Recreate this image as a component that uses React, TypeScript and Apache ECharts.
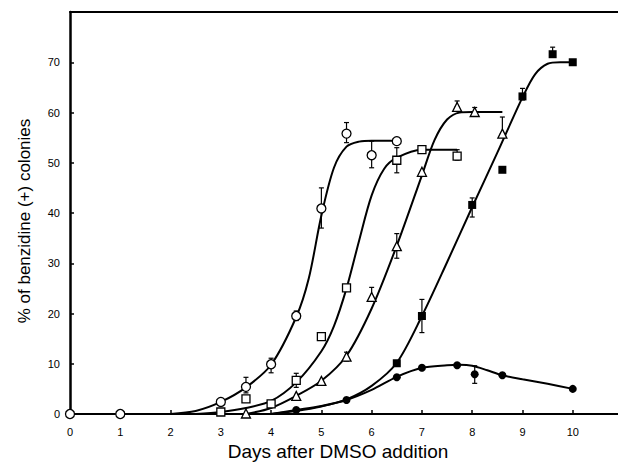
import React, { useEffect, useRef } from "react";
import * as echarts from "echarts";

// ---- tick labels ----
const xTicks = [0, 1, 2, 3, 4, 5, 6, 7, 8, 9, 10];
const yTicks = [0, 10, 20, 30, 40, 50, 60, 70];

// ---- measured points [day, %] ----
const openCircles = [[0, 0], [1, 0], [3, 2.4], [3.5, 5.4], [4, 9.9], [4.5, 19.5], [5, 40.9], [5.5, 55.8], [6, 51.5], [6.5, 54.3]];
const openSquares = [[3, 0.4], [3.5, 3.0], [4, 2.0], [4.5, 6.7], [5, 15.4], [5.5, 25.1], [6.5, 50.5], [7, 52.6], [7.7, 51.3]];
const openTriangles = [[3.5, 0.1], [4.5, 3.6], [5, 6.6], [5.5, 11.4], [6, 23.3], [6.5, 33.4], [7, 48.2], [7.7, 61.1], [8.05, 60.1], [8.6, 55.8]];
const filledSquares = [[6.5, 10.1], [7, 19.5], [8, 41.6], [8.6, 48.6], [9, 63.2], [9.6, 71.6], [10, 70]];
const filledCircles = [[4.5, 0.8], [5.5, 2.8], [6.5, 7.3], [7, 9.2], [7.7, 9.7], [8.05, 7.9], [8.6, 7.7], [10, 5.0]];

// ---- error bars [day, low, high] ----
const openCirclesErr = [[3.5, 4.2, 7.3], [4, 8.2, 11.1], [4.5, 18.6, 20.5], [5, 37, 45], [5.5, 54, 58], [6, 49, 54.3]];
const openSquaresErr = [[4.5, 5.3, 8.1], [6.5, 48, 53], [7.7, 50.5, 52.6]];
const openTrianglesErr = [[5.5, 10.5, 12.3], [6, 23.3, 25.2], [6.5, 31, 35.9], [7.7, 61.1, 62.3], [8.05, 59.3, 61], [8.6, 55.8, 59.1]];
const filledSquaresErr = [[7, 16.2, 22.8], [8, 39.2, 43], [9, 62.5, 64.8], [9.6, 71.6, 73]];
const filledCirclesErr = [[8.05, 6.1, 9.6]];

// ---- fitted curves [day, %] ----
const openCircleCurve = [[2, 0], [2.5, 0.6], [3, 2.4], [3.5, 5.3], [4, 9.8], [4.5, 19.3], [4.75, 27], [5, 39.5], [5.25, 49], [5.5, 53.2], [5.75, 54.2], [6, 54.4], [6.5, 54.4]];
const openSquareCurve = [[2.5, 0], [3, 0.4], [3.5, 1.2], [4, 2.6], [4.5, 6.3], [5, 12.5], [5.25, 17.5], [5.5, 25], [5.75, 34.5], [6, 43.5], [6.25, 48.8], [6.5, 51], [7, 52.6], [7.7, 52.6]];
const openTriangleCurve = [[3.5, 0], [4, 1.2], [4.5, 3.6], [5, 6.6], [5.5, 11.6], [6, 21], [6.5, 33.5], [7, 47.5], [7.25, 54.5], [7.5, 58.6], [7.75, 60], [8, 60.1], [8.6, 60.1]];
const filledSquareCurve = [[4, 0], [4.5, 0.6], [5, 1.5], [5.5, 2.9], [6, 5.6], [6.5, 10.2], [7, 19.5], [7.5, 30.2], [8, 41.2], [8.5, 52], [9, 63], [9.25, 67.6], [9.5, 69.7], [9.75, 70], [10, 70]];
const filledCircleCurve = [[4, 0], [4.5, 0.8], [5, 1.6], [5.5, 2.8], [6, 4.8], [6.5, 7.4], [7, 9.2], [7.5, 9.7], [7.75, 9.8], [8, 9.6], [8.3, 8.7], [8.6, 7.7], [9, 6.9], [9.5, 6.0], [10, 5.0]];

const FONT = "'Liberation Sans', Arial, Helvetica, sans-serif";

function curve(data: number[][]) {
  return {
    type: "line",
    data,
    smooth: 0.3,
    showSymbol: false,
    symbol: "none",
    lineStyle: { color: "#000", width: 2 },
    z: 2,
    silent: true,
  };
}

function errBars(data: number[][]) {
  return {
    type: "custom",
    data,
    z: 3,
    silent: true,
    renderItem: (params: any, api: any) => {
      const x = api.value(0);
      const lo = api.coord([x, api.value(1)]);
      const hi = api.coord([x, api.value(2)]);
      const cw = 2.5;
      const st = { stroke: "#000", lineWidth: 1.2 };
      return {
        type: "group",
        children: [
          { type: "line", shape: { x1: lo[0], y1: lo[1], x2: hi[0], y2: hi[1] }, style: st },
          { type: "line", shape: { x1: lo[0] - cw, y1: lo[1], x2: lo[0] + cw, y2: lo[1] }, style: st },
          { type: "line", shape: { x1: hi[0] - cw, y1: hi[1], x2: hi[0] + cw, y2: hi[1] }, style: st },
        ],
      };
    },
  };
}

function markers(data: number[][], symbol: string, size: number, filled: boolean) {
  return {
    type: "scatter",
    data,
    symbol,
    symbolSize: size,
    z: 4,
    itemStyle: {
      opacity: 1,
      color: filled ? "#000" : "#fff",
      borderColor: "#000",
      borderWidth: filled ? 0 : 1.3,
    },
  };
}

export default function App() {
  const ref = useRef<HTMLDivElement>(null);
  useEffect(() => {
    if (!ref.current) return;
    const chart = echarts.init(ref.current, undefined, { renderer: "svg" });
    chart.setOption({
      animation: false,
      backgroundColor: "#fff",
      grid: { left: 70, right: 0, top: 12, bottom: 51 },
      xAxis: [
        {
          type: "value",
          min: 0,
          max: 10.9,
          interval: 1,
          axisLine: { onZero: false, lineStyle: { color: "#000", width: 2 } },
          axisTick: { inside: true, length: 4, customValues: xTicks, lineStyle: { color: "#000", width: 1.5 } },
          axisLabel: { customValues: xTicks, margin: 12, fontSize: 11, color: "#000", fontFamily: FONT },
          splitLine: { show: false },
        },
        {
          type: "value",
          position: "top",
          min: 0,
          max: 10.9,
          axisLine: { onZero: false, lineStyle: { color: "#000", width: 2 } },
          axisTick: { show: false },
          axisLabel: { show: false },
          splitLine: { show: false },
        },
      ],
      yAxis: {
        type: "value",
        min: 0,
        max: 80,
        interval: 10,
        axisLine: { show: true, onZero: false, lineStyle: { color: "#000", width: 2.5 } },
        axisTick: { inside: true, length: 4, customValues: yTicks, lineStyle: { color: "#000", width: 1.5 } },
        axisLabel: { customValues: yTicks, margin: 10, fontSize: 11, color: "#000", fontFamily: FONT },
        splitLine: { show: false },
      },
      graphic: [
        {
          type: "text",
          x: 338,
          y: 451,
          style: {
            text: "Days after DMSO addition",
            fontSize: 19,
            fontFamily: FONT,
            fill: "#000",
            textAlign: "center",
            textVerticalAlign: "middle",
          },
        },
        {
          type: "text",
          x: 24,
          y: 221,
          rotation: Math.PI / 2,
          style: {
            text: "% of benzidine (+) colonies",
            fontSize: 17,
            fontFamily: FONT,
            fill: "#000",
            textAlign: "center",
            textVerticalAlign: "middle",
          },
        },
      ],
      series: [
        curve(openCircleCurve),
        curve(openSquareCurve),
        curve(openTriangleCurve),
        curve(filledSquareCurve),
        curve(filledCircleCurve),
        errBars(openCirclesErr),
        errBars(openSquaresErr),
        errBars(openTrianglesErr),
        errBars(filledSquaresErr),
        errBars(filledCirclesErr),
        markers(openCircles, "circle", 9, false),
        markers(openSquares, "rect", 8, false),
        markers(openTriangles, "triangle", 9, false),
        markers(filledSquares, "rect", 8, true),
        markers(filledCircles, "circle", 8, true),
      ],
    });
    return () => chart.dispose();
  }, []);
  return (
    <div
      ref={ref}
      style={{ position: "absolute", left: 0, top: 0, width: 618, height: 465 }}
    />
  );
}
